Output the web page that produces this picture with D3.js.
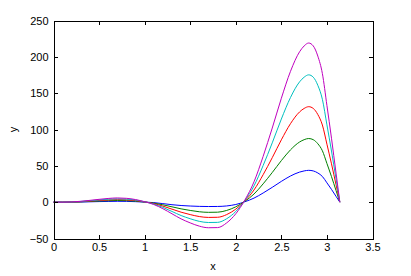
<!DOCTYPE html>
<html>
<head>
<meta charset="utf-8">
<script src="https://cdn.jsdelivr.net/npm/d3@7"></script>
<style>
  html, body { margin: 0; padding: 0; background: #fff; }
  svg { display: block; }
  text { font-family: Arial, "Liberation Sans", sans-serif; font-size: 11px; fill: #000; }
</style>
</head>
<body>
<svg id="chart" width="411" height="276"></svg>
<script>
// ---- data ----
const xValues = [0, 0.1, 0.2, 0.3, 0.4, 0.5, 0.6, 0.7, 0.8, 0.9, 1.0, 1.1, 1.2, 1.3, 1.4, 1.5, 1.6, 1.7, 1.8, 1.9, 2.0, 2.1, 2.2, 2.3, 2.4, 2.5, 2.6, 2.7, 2.75, 2.8, 2.85, 2.9, 2.95, 3.0, 3.05, 3.1, 3.1416];

const seriesBlue    = [0, 0, 0.1, 0.2, 0.5, 0.8, 1, 1.2, 1.1, 0.7, 0.1, -0.6, -2, -3.5, -4.6, -5.3, -5.8, -6, -5.9, -5.2, -3.2, 0.6, 5.6, 12.6, 20.4, 28.6, 36, 41.4, 43, 43.8, 43, 40.2, 35.4, 26.6, 17.6, 8, 0];
const seriesGreen   = [0, 0, 0.1, 0.5, 1, 1.6, 2, 2.3, 2.1, 1.4, 0.2, -1.3, -3.6, -6.4, -9.2, -11.4, -13.2, -14, -13.8, -11.4, -6.4, 1.2, 11.2, 25.2, 40.8, 57.2, 72, 82.8, 86, 87.6, 86, 80.4, 70.8, 53.2, 35.2, 16, 0];
const seriesRed     = [0, 0, 0.2, 0.7, 1.5, 2.3, 3.1, 3.5, 3.2, 2.2, 0.4, -1.9, -5.4, -9.6, -13.8, -17.1, -19.8, -21, -20.8, -17.1, -9.6, 1.8, 16.8, 37.8, 61.2, 85.8, 108, 124.2, 129, 131.4, 129, 120.6, 106.2, 79.8, 52.8, 24, 0];
const seriesCyan    = [0, 0, 0.2, 1, 2, 3.1, 4.1, 4.6, 4.2, 2.9, 0.5, -2.6, -7.2, -12.8, -18.4, -22.8, -26.4, -28, -27.8, -22.8, -12.8, 2.4, 22.4, 50.4, 81.6, 114.4, 144, 165.6, 172, 175.2, 172, 160.8, 141.6, 106.4, 70.4, 32, 0];
const seriesMagenta = [0, 0, 0.3, 1.2, 2.5, 3.9, 5.1, 5.8, 5.3, 3.6, 0.6, -3.2, -9, -16, -23, -28.5, -33, -35.2, -35, -28.5, -16, 3, 28, 63, 102, 143, 180, 207, 215, 219, 215, 201, 177, 133, 88, 40, 0];

const xTicks = [0, 0.5, 1, 1.5, 2, 2.5, 3, 3.5];
const yTicks = [-50, 0, 50, 100, 150, 200, 250];
const xLabel = "x";
const yLabel = "y";

const series = [
  { values: seriesBlue,    color: "#0000ff" },
  { values: seriesGreen,   color: "#008000" },
  { values: seriesRed,     color: "#ff0000" },
  { values: seriesCyan,    color: "#00bfbf" },
  { values: seriesMagenta, color: "#bf00bf" }
];

// ---- layout ----
const plotLeft = 53.5, plotRight = 372.5, plotTop = 20.5, plotBottom = 238.5;
const svg = d3.select("#chart");

const x = d3.scaleLinear().domain([0, 3.5]).range([plotLeft, plotRight]);
const y = d3.scaleLinear().domain([-50, 250]).range([plotBottom, plotTop]);

// curves
const line = d3.line()
  .x((d, i) => x(xValues[i]))
  .y(d => y(d))
  .curve(d3.curveMonotoneX);

svg.append("g").selectAll("path")
  .data(series)
  .join("path")
  .attr("d", s => line(s.values))
  .attr("fill", "none")
  .attr("stroke", s => s.color)
  .attr("stroke-width", 1);

// axes with inward ticks on all four sides
const tickLen = 4;
const gB = svg.append("g").attr("transform", `translate(0,${plotBottom})`)
  .call(d3.axisBottom(x).tickValues(xTicks).tickSize(-tickLen).tickPadding(6).tickFormat(d3.format("")));
const gT = svg.append("g").attr("transform", `translate(0,${plotTop})`)
  .call(d3.axisTop(x).tickValues(xTicks).tickSize(-tickLen).tickFormat(""));
const gL = svg.append("g").attr("transform", `translate(${plotLeft},0)`)
  .call(d3.axisLeft(y).tickValues(yTicks).tickSize(-tickLen).tickPadding(5).tickFormat(d3.format("")));
const gR = svg.append("g").attr("transform", `translate(${plotRight},0)`)
  .call(d3.axisRight(y).tickValues(yTicks).tickSize(-tickLen).tickFormat(""));

[gB, gT, gL, gR].forEach(g => {
  g.select(".domain").attr("stroke", "#000").attr("stroke-width", 1);
  g.selectAll(".tick line").attr("stroke", "#000");
  g.selectAll("text").attr("fill", "#000")
    .style("font-family", "Arial, 'Liberation Sans', sans-serif").style("font-size", "11px");
  g.attr("shape-rendering", "crispEdges");
});
gB.selectAll("text").attr("dy", "0.71em").attr("y", 5);

// axis labels
svg.append("text").attr("x", (plotLeft + plotRight) / 2).attr("y", 270)
  .attr("text-anchor", "middle").text(xLabel);
svg.append("text")
  .attr("transform", `translate(17,${(plotTop + plotBottom) / 2}) rotate(-90)`)
  .attr("text-anchor", "middle").text(yLabel);
</script>
</body>
</html>
